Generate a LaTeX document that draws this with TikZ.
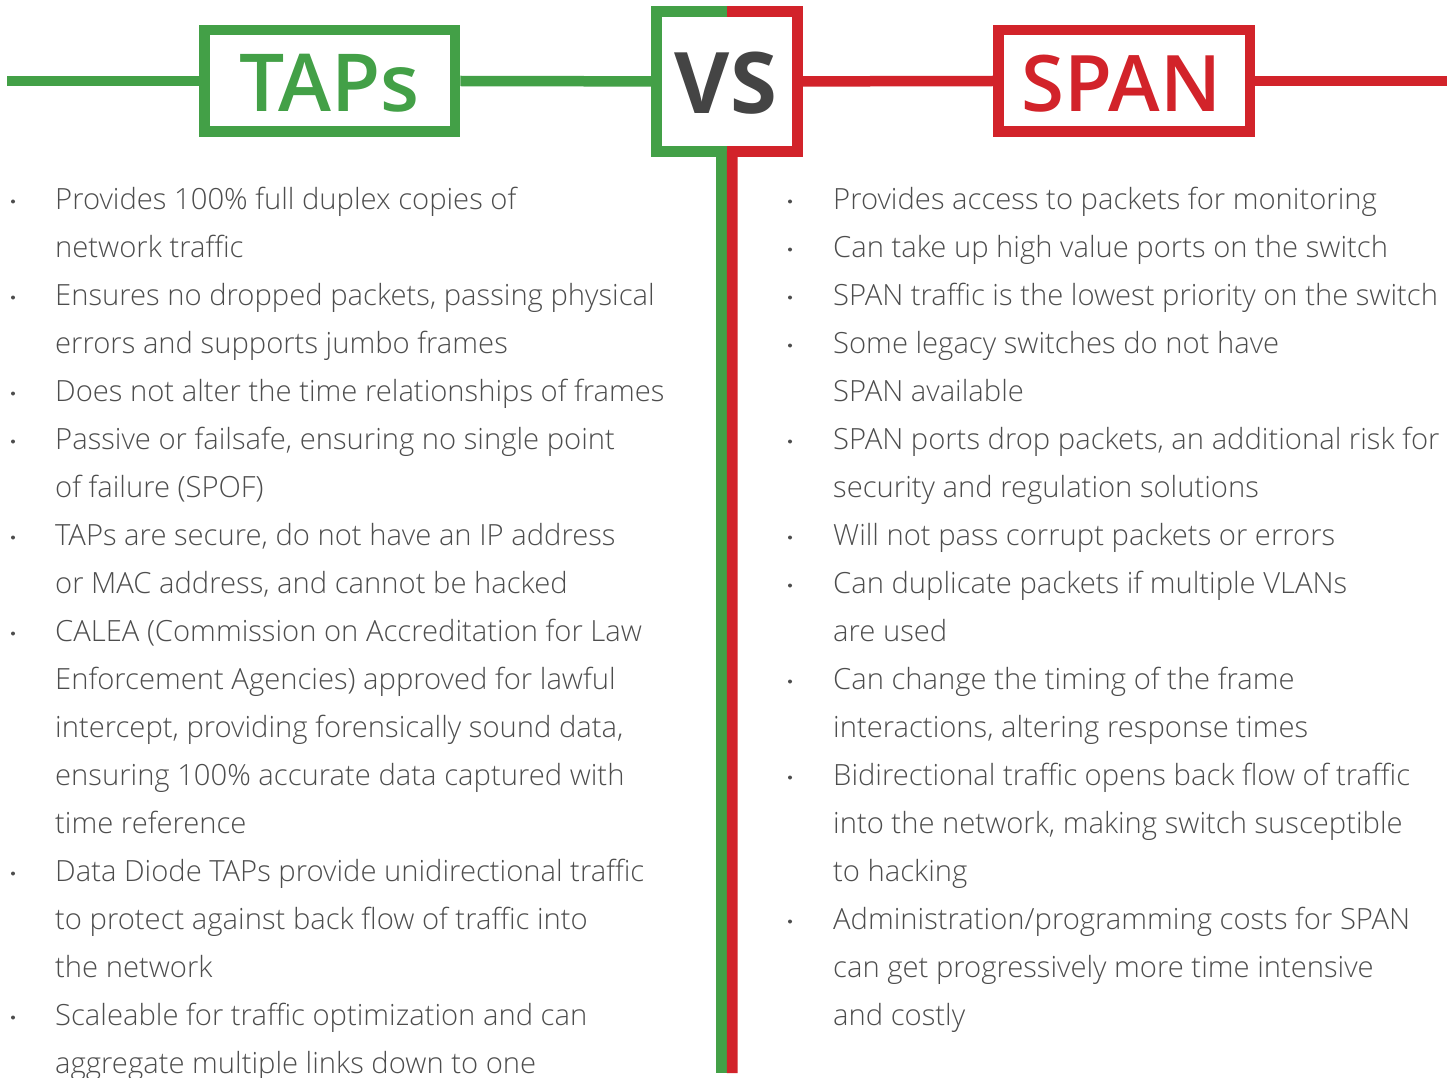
\documentclass[tikz,border=0pt]{standalone}
\usepackage{fontspec}
\IfFontExistsTF{Open Sans Light}{\newfontfamily\bodyfont{Open Sans Light}}{\newfontfamily\bodyfont{Open Sans}}
\IfFontExistsTF{Open Sans Semibold}{\newfontfamily\headfont{Open Sans Semibold}}{\newfontfamily\headfont{Open Sans}}
\newfontfamily\opensans{Open Sans}
\definecolor{tapgreen}{RGB}{67,160,71}
\definecolor{spanred}{RGB}{210,35,42}
\definecolor{txtgray}{RGB}{77,77,77}
\definecolor{vsgray}{RGB}{68,68,68}
\newcommand{\Lline}[3]{\node[body] (#1) at (55,{209+48*#2}) {#3};}
\newcommand{\Rline}[3]{\node[body] (#1) at (833,{209+48*#2}) {#3};}
\newcommand{\Bul}[3]{\node[bul] (#1) at (#2,{201.5+48*#3}) {};}
\begin{document}
\begin{tikzpicture}[x=1pt,y=-1pt,
  gline/.style={draw=tapgreen,line width=10.5pt},
  rline/.style={draw=spanred,line width=10.5pt},
  hbox/.style={rectangle,line width=10.5pt,inner sep=0pt,minimum height=101.5pt},
  hlabel/.style={anchor=base,inner sep=0pt,font=\headfont\fontsize{80}{80}\selectfont},
  body/.style={anchor=base west,inner sep=0pt,text=txtgray,font=\bodyfont\fontsize{29.2}{34}\selectfont},
  bul/.style={circle,fill=txtgray,inner sep=0pt,minimum size=4pt}]
\useasboundingbox (0,0) rectangle (1453,1078);
% header boxes
\node[hbox,draw=tapgreen,minimum width=250.9pt] (tapsbox) at (329.7,81) {};
\node[hlabel,text=tapgreen] (tapslabel) at (329.5,112) {TAPs};
\node[hbox,draw=spanred,minimum width=251.2pt] (spanbox) at (1124.2,81) {};
\node[hlabel,text=spanred,font=\headfont\fontsize{78}{78}\selectfont] (spanlabel) at (1121.5,112) {SPAN};
\node[rectangle,draw=none,inner sep=0pt,outer sep=0pt,minimum width=141.2pt,minimum height=140.2pt] (vsbox) at (726.9,81.4) {};
\node[anchor=base,inner sep=0pt,text=vsgray,font=\opensans\bfseries\fontsize{85}{85}\selectfont] (vslabel) at (726,114) {VS};
\coordinate (lstart) at (7,81);
\coordinate (rend) at (1447,81);
\coordinate (gbot) at (721.5,1073);
\coordinate (rbot) at (732.3,1073);
% connectors
\draw[gline] (lstart) -- (tapsbox.west);
\draw[gline] (tapsbox.east) -- (vsbox.west);
\draw[rline] (vsbox.east) -- (spanbox.west);
\draw[rline] (spanbox.east) -- (rend);
\draw[gline] (vsbox.north) -- (vsbox.north west) -- (vsbox.south west) -- (vsbox.south);
\draw[rline] (vsbox.north) -- (vsbox.north east) -- (vsbox.south east) -- (vsbox.south);
\draw[draw=tapgreen,line width=10.8pt] ([xshift=-5.4pt]vsbox.south) -- (gbot);
\draw[draw=spanred,line width=10.8pt] ([xshift=5.4pt]vsbox.south) -- (rbot);
% left column
\Lline{l0}{0}{Provides 100\% full duplex copies of}
\Lline{l1}{1}{network traffic}
\Lline{l2}{2}{Ensures no dropped packets, passing physical}
\Lline{l3}{3}{errors and supports jumbo frames}
\Lline{l4}{4}{Does not alter the time relationships of frames}
\Lline{l5}{5}{Passive or failsafe, ensuring no single point}
\Lline{l6}{6}{of failure (SPOF)}
\Lline{l7}{7}{TAPs are secure, do not have an IP address}
\Lline{l8}{8}{or MAC address, and cannot be hacked}
\Lline{l9}{9}{CALEA (Commission on Accreditation for Law}
\Lline{l10}{10}{Enforcement Agencies) approved for lawful}
\Lline{l11}{11}{intercept, providing forensically sound data,}
\Lline{l12}{12}{ensuring 100\% accurate data captured with}
\Lline{l13}{13}{time reference}
\Lline{l14}{14}{Data Diode TAPs provide unidirectional traffic}
\Lline{l15}{15}{to protect against back flow of traffic into}
\Lline{l16}{16}{the network}
\Lline{l17}{17}{Scaleable for traffic optimization and can}
\Lline{l18}{18}{aggregate multiple links down to one}
\Bul{lb0}{13}{0}
\Bul{lb1}{13}{2}
\Bul{lb2}{13}{4}
\Bul{lb3}{13}{5}
\Bul{lb4}{13}{7}
\Bul{lb5}{13}{9}
\Bul{lb6}{13}{14}
\Bul{lb7}{13}{17}
% right column
\Rline{r0}{0}{Provides access to packets for monitoring}
\Rline{r1}{1}{Can take up high value ports on the switch}
\Rline{r2}{2}{SPAN traffic is the lowest priority on the switch}
\Rline{r3}{3}{Some legacy switches do not have}
\Rline{r4}{4}{SPAN available}
\Rline{r5}{5}{SPAN ports drop packets, an additional risk for}
\Rline{r6}{6}{security and regulation solutions}
\Rline{r7}{7}{Will not pass corrupt packets or errors}
\Rline{r8}{8}{Can duplicate packets if multiple VLANs}
\Rline{r9}{9}{are used}
\Rline{r10}{10}{Can change the timing of the frame}
\Rline{r11}{11}{interactions, altering response times}
\Rline{r12}{12}{Bidirectional traffic opens back flow of traffic}
\Rline{r13}{13}{into the network, making switch susceptible}
\Rline{r14}{14}{to hacking}
\Rline{r15}{15}{Administration/programming costs for SPAN}
\Rline{r16}{16}{can get progressively more time intensive}
\Rline{r17}{17}{and costly}
\Bul{rb0}{790}{0}
\Bul{rb1}{790}{1}
\Bul{rb2}{790}{2}
\Bul{rb3}{790}{3}
\Bul{rb4}{790}{5}
\Bul{rb5}{790}{7}
\Bul{rb6}{790}{8}
\Bul{rb7}{790}{10}
\Bul{rb8}{790}{12}
\Bul{rb9}{790}{15}
\end{tikzpicture}
\end{document}
